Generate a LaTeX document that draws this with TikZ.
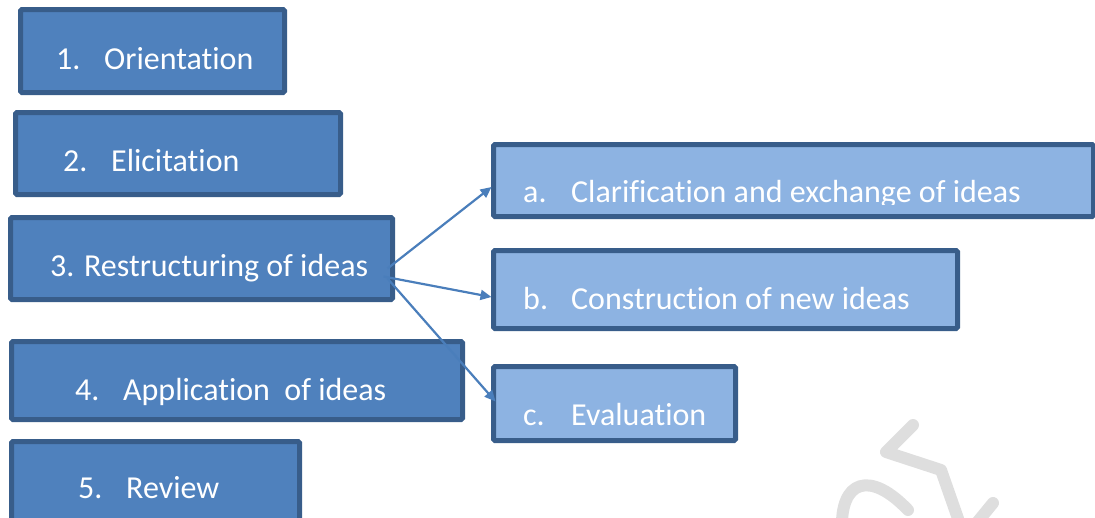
\documentclass[tikz,border=0pt]{standalone}
\usepackage{fontspec}
\setmainfont{Carlito}[Ligatures=NoCommon]
\usetikzlibrary{arrows.meta}
\definecolor{stagefill}{HTML}{4F81BD}
\definecolor{subfill}{HTML}{8DB3E2}
\definecolor{boxline}{HTML}{385D8A}
\definecolor{linkline}{HTML}{4A7EBB}
\definecolor{markgray}{HTML}{DEDEDE}
\tikzset{
  stage/.style={draw=boxline, fill=stagefill, line width=5pt, rounded corners=1.5pt, inner sep=0pt, outer sep=0pt},
  substage/.style={stage, fill=subfill},
  caption/.style={anchor=base west, inner sep=0pt, text=white, font=\fontsize{32}{38}\selectfont},
  link/.style={draw=linkline, line width=2.2pt, -{Triangle[length=11pt,width=10pt]}},
  faintstroke/.style={draw=markgray, line width=12pt, line cap=round, line join=round}
}
\newcommand{\numbered}[2]{\makebox[48pt][l]{#1}#2}

\begin{document}
\begin{tikzpicture}[x=1pt, y=-1pt]
			%%%%% START %%%%%
			\useasboundingbox (0, 0) rectangle (1095, 517);
			\clip (0, 0) rectangle (1095, 517);
			
			% faint strokes in the corner
			\draw[faintstroke] (913, 425) -- (886, 452) -- (941, 470) -- (962, 530);
			\draw[faintstroke] (842, 530) .. controls (840, 480) and (870, 470) .. (908, 510);
			\draw[faintstroke] (993, 503) -- (975, 525);
			
			% main stages
			\node[stage, minimum width=264, minimum height=83] (orient) at (152.5, 51) {};
			\node[stage, minimum width=325, minimum height=82] (elicit) at (178, 153.5) {};
			\node[stage, minimum width=382, minimum height=82] (restr) at (201.5, 258.5) {};
			\node[stage, minimum width=451, minimum height=78] (apply) at (237, 380.5) {};
			\node[stage, minimum width=288, minimum height=82] (review) at (155.5, 482.5) {};
			
			\node[caption] (orient-t) at (56, 69) {\numbered{1.}{Orientation}};
			\node[caption] (elicit-t) at (63, 171) {\numbered{2.}{Elicitation}};
			\node[caption] (restr-t) at (50, 276) {3. Restructuring of ideas};
			\node[caption] (apply-t) at (75, 400) {\numbered{4.}{Application\ \ of ideas}};
			\node[caption] (review-t) at (78, 498) {\numbered{5.}{Review}};
			
			% sub stages of step 3
			\node[substage, minimum width=600, minimum height=72] (clar) at (793.5, 180.5) {};
			\node[substage, minimum width=464, minimum height=78] (constr) at (725.5, 289.5) {};
			\node[substage, minimum width=242, minimum height=74] (evalu) at (614.5, 403.5) {};
			
			\begin{scope}
				\clip (496, 147) rectangle (1091, 204);
				\node[caption] (clar-t) at (523, 202) {\numbered{a.}{Clarification and exchange of ideas}};
			\end{scope}
			\node[caption] (constr-t) at (523, 309) {\numbered{b.}{Construction of new ideas}};
			\node[caption] (evalu-t) at (523, 425) {\numbered{c.}{Evaluation}};
			
			\draw[link] ([shift={(-5, 10)}]restr.east) -- ([shift={(-2, 6.5)}]clar.west);
			\draw[link] ([shift={(-9, 18)}]restr.east) -- ([shift={(-2, 7.5)}]constr.west);
			\draw[link] ([shift={(-5, 20)}]restr.east) -- ([shift={(2, -2)}]evalu.west);
			
			%%%%% END %%%%%
\end{tikzpicture}
\end{document}
